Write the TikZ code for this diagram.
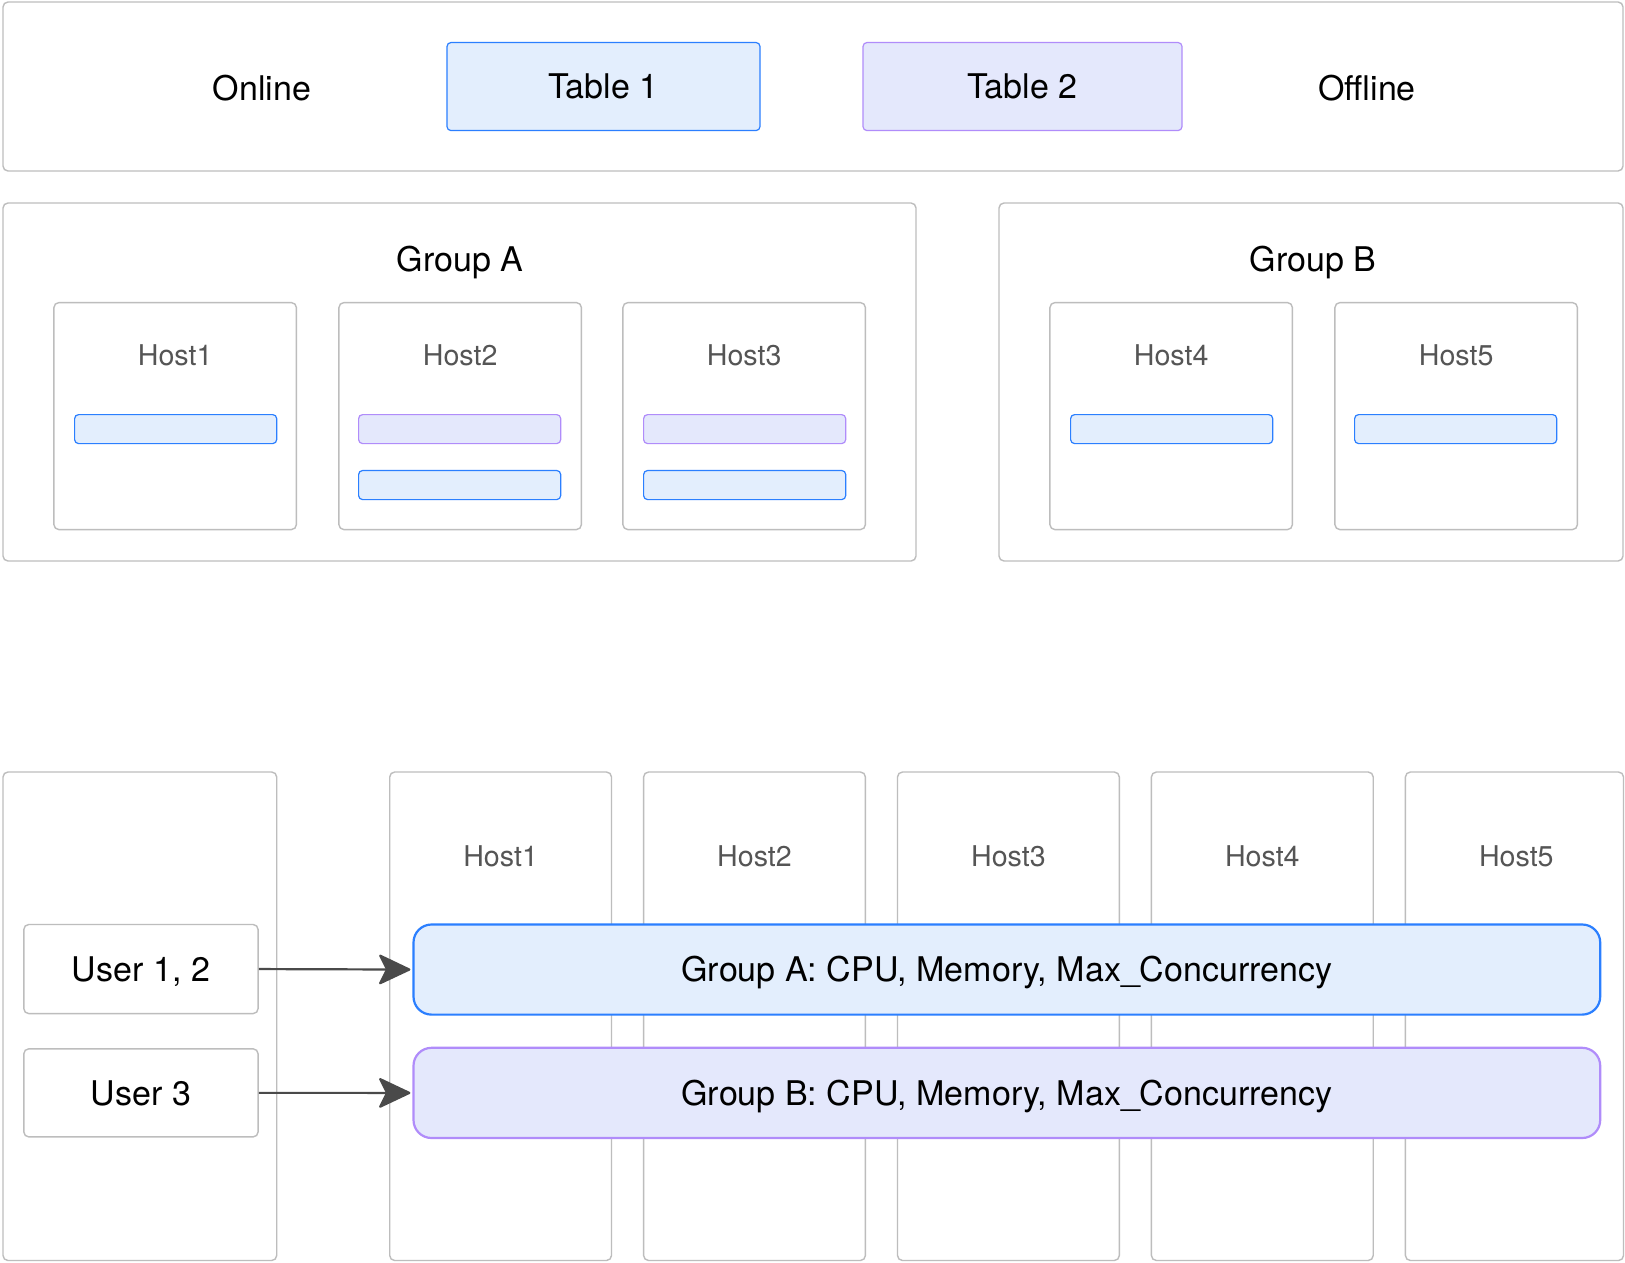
\documentclass[tikz,border=0pt]{standalone}
\usepackage{fontspec}
\setmainfont{TeX Gyre Heros}
\usetikzlibrary{fit,arrows.meta,calc}

\definecolor{frame}{HTML}{BDBDBD}
\definecolor{blueline}{HTML}{2B7FFF}
\definecolor{bluefill}{HTML}{E3EEFD}
\definecolor{purpleline}{HTML}{B08CFA}
\definecolor{purplefill}{HTML}{E4E8FC}
\definecolor{hostgray}{HTML}{555555}
\definecolor{arrowgray}{HTML}{4A4A4A}

\begin{document}
\begin{tikzpicture}[x=0.5pt,y=-0.5pt,
  panel/.style={draw=frame, line width=0.7pt, rounded corners=2.5pt, fill=white, inner sep=0pt},
  bluebox/.style={draw=blueline, fill=bluefill, line width=0.6pt, rounded corners=2pt, inner sep=0pt},
  purplebox/.style={draw=purpleline, fill=purplefill, line width=0.6pt, rounded corners=2pt, inner sep=0pt},
  bluebar/.style={draw=blueline, fill=bluefill, line width=1.1pt, rounded corners=9pt, inner sep=0pt},
  purplebar/.style={draw=purpleline, fill=purplefill, line width=1.1pt, rounded corners=9pt, inner sep=0pt},
  maintext/.style={font=\fontsize{17}{20}\selectfont, text=black, text height=12.2pt, text depth=0pt, inner sep=0pt},
  hostlabel/.style={font=\fontsize{14.3}{17}\selectfont, text=hostgray, text height=10.3pt, text depth=0pt, inner sep=0pt},
  flow/.style={draw=arrowgray, line width=1.1pt, shorten >=1pt,
    -{Stealth[length=17pt,width=16pt,inset=4pt,round]}},
]
\path[use as bounding box, fill=white] (0,0) rectangle (1625,1262);

% ---- storage row: online / offline tables ----
\node[panel, fit={(3,2)(1623,171)}] (store) {};
\node[maintext] (online) at (262,88) {Online};
\node[bluebox, fit={(447,42.5)(760,130.6)}] (t1) {};
\node[maintext] (t1text) at (t1) {Table 1};
\node[purplebox, fit={(863,42.5)(1182,130.6)}] (t2) {};
\node[maintext] (t2text) at (t2) {Table 2};
\node[maintext] (offline) at (1367,88) {Offline};

% ---- resource groups with their hosts ----
\node[panel, fit={(3,203)(916,561)}] (ga) {};
\node[maintext] (galabel) at (460,259) {Group A};
\node[panel, fit={(999,203)(1623,561)}] (gb) {};
\node[maintext] (gblabel) at (1313,259) {Group B};

\foreach \n/\xa/\xb in {1/53.9/296.4, 2/338.9/581.4, 3/622.9/865.4, 4/1049.9/1292.4, 5/1334.9/1577.4}{
  \node[panel, fit={(\xa,302.6)(\xb,529.6)}] (h\n) {};
  \node[hostlabel] (h\n label) at ($(\xa,355.5)!0.5!(\xb,355.5)$) {Host\n};
}
\node[bluebox, fit={(74.6,414.6)(276.7,443.6)}] (h1a) {};
\node[purplebox, fit={(358.6,414.6)(560.7,443.6)}] (h2a) {};
\node[bluebox, fit={(358.6,470.5)(560.7,499.6)}] (h2b) {};
\node[purplebox, fit={(643.6,414.6)(845.7,443.6)}] (h3a) {};
\node[bluebox, fit={(643.6,470.5)(845.7,499.6)}] (h3b) {};
\node[bluebox, fit={(1070.6,414.6)(1272.7,443.6)}] (h4a) {};
\node[bluebox, fit={(1354.6,414.6)(1556.7,443.6)}] (h5a) {};

% ---- users mapped onto groups across all hosts ----
\node[panel, fit={(3,772)(276.7,1260.5)}] (users) {};
\foreach \n/\xa/\xb/\xc in {1/389.7/611.5/500.6, 2/643.6/865.4/754.5, 3/897.5/1119.3/1008.4, 4/1151.4/1373.2/1262.3, 5/1405.4/1623.5/1516.3}{
  \node[panel, fit={(\xa,772)(\xb,1260.5)}] (c\n) {};
  \node[hostlabel] (c\n label) at (\xc,856) {Host\n};
}

\node[panel, fit={(23.8,924.5)(258.1,1013.6)}] (u12) {};
\node[maintext] (u12text) at (u12) {User 1, 2};
\node[panel, fit={(23.8,1048.8)(258.1,1136.9)}] (u3) {};
\node[maintext] (u3text) at (u3) {User 3};

\node[bluebar, fit={(413.5,924.5)(1600.2,1014.6)}] (barA) {};
\node[maintext] (barAtext) at (barA) {Group A: CPU, Memory, Max\_Concurrency};
\node[purplebar, fit={(413.5,1047.8)(1600.2,1138)}] (barB) {};
\node[maintext] (barBtext) at (barB) {Group B: CPU, Memory, Max\_Concurrency};

\draw[flow] (u12.east) -- (barA.west);
\draw[flow] (u3.east) -- (barB.west);
\end{tikzpicture}
\end{document}
